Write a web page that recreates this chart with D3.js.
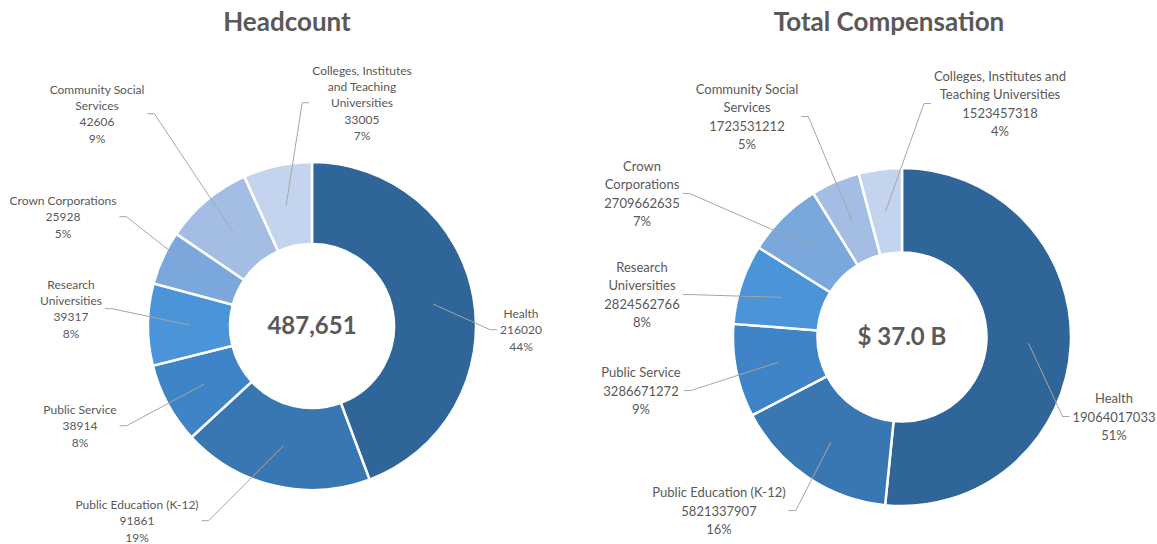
<!DOCTYPE html>
<html>
<head>
<meta charset="utf-8">
<script src="https://cdn.jsdelivr.net/npm/d3@7"></script>
<style>
  body { margin: 0; background: #fff; }
  svg { display: block; font-family: Lato, "Open Sans", sans-serif; }
</style>
</head>
<body>
<div id="chart"></div>
<script>
// sectors, in drawing order (clockwise from 12 o'clock)
const sectors = ['Health', 'Public Education (K-12)', 'Public Service', 'Research Universities',
  'Crown Corporations', 'Community Social Services', 'Colleges, Institutes and Teaching Universities']
const headcount = [216020, 91861, 38914, 39317, 25928, 42606, 33005]
const compensation = [19064017033, 5821337907, 3286671272, 2824562766, 2709662635, 1723531212, 1523457318]
const colors = ['#2f6598', '#3877b2', '#3e84c7', '#4a94d7', '#7aa7dc', '#a4bde5', '#c5d4ee']

// how each label wraps, per chart
const headcountLines = [['Health'], ['Public Education (K-12)'], ['Public Service'], ['Research', 'Universities'],
  ['Crown Corporations'], ['Community Social', 'Services'], ['Colleges, Institutes', 'and Teaching', 'Universities']]
const compensationLines = [['Health'], ['Public Education (K-12)'], ['Public Service'], ['Research', 'Universities'],
  ['Crown', 'Corporations'], ['Community Social', 'Services'], ['Colleges, Institutes and', 'Teaching Universities']]

// label block centres, relative to donut centre (placed by hand in the original)
const headcountLabelPos = [[209, 4], [-175, 195], [-232, 100], [-241, -17], [-249, -109], [-215, -212], [50, -223]]
const compensationLabelPos = [[212, 80], [-183, 174], [-261, 54], [-260, -42], [-260, -143], [-155, -220], [98, -233]]

const width = 1157, height = 544
const svg = d3.select('#chart').append('svg')
  .attr('width', width)
  .attr('height', height)

// whole percentages that add up to 100 (largest remainder)
function percents(values) {
  let total = d3.sum(values)
  let raw = values.map(v => v / total * 100)
  let out = raw.map(Math.floor)
  let left = 100 - d3.sum(out)
  d3.range(raw.length)
    .sort((a, b) => (raw[b] - out[b]) - (raw[a] - out[a]))
    .slice(0, left)
    .forEach(i => out[i] += 1)
  return out
}

function donut(opts) {
  let pct = percents(opts.values)
  let pie = d3.pie().sort(null).value(d => d.value)
  let data = pie(opts.values.map((v, i) => ({ name: sectors[i], value: v, i: i })))

  let arc = d3.arc().innerRadius(opts.r * 0.5).outerRadius(opts.r)
  let mid = d3.arc().innerRadius(opts.r * 0.75).outerRadius(opts.r * 0.75)

  let g = svg.append('g')
    .attr('transform', `translate(${opts.cx}, ${opts.cy})`)

  svg.append('text')
    .attr('x', opts.titleX)
    .attr('y', 31)
    .attr('text-anchor', 'middle')
    .attr('font-size', '26px')
    .attr('font-weight', 'bold')
    .attr('fill', '#595959')
    .text(opts.title)

  g.selectAll('.slice')
    .data(data)
    .enter().append('path')
    .attr('class', 'slice')
    .attr('d', arc)
    .attr('fill', d => colors[d.data.i])
    .attr('stroke', '#fff')
    .attr('stroke-width', 2.5)

  g.append('text')
    .attr('text-anchor', 'middle')
    .attr('dy', '0.35em')
    .attr('font-size', opts.centerSize)
    .attr('font-weight', 'bold')
    .attr('fill', '#595959')
    .text(opts.centerText)

  // labels first, so leader lines can be fitted to their boxes
  let labels = g.selectAll('.label')
    .data(data)
    .enter().append('text')
    .attr('class', 'label')
    .attr('text-anchor', 'middle')
    .attr('font-size', opts.fontSize)
    .attr('fill', '#595959')

  labels.each(function(d) {
    let lines = opts.lines[d.data.i].concat([String(d.data.value), pct[d.data.i] + '%'])
    let [lx, ly] = opts.labelPos[d.data.i]
    let top = ly - (lines.length - 1) * opts.lineHeight / 2
    d3.select(this).selectAll('tspan')
      .data(lines)
      .enter().append('tspan')
      .attr('x', lx)
      .attr('y', (t, k) => top + k * opts.lineHeight)
      .attr('dy', '0.35em')
      .text(t => t)
  })

  labels.each(function(d) {
    let box = this.getBBox()
    let [ax, ay] = mid.centroid(d)
    let ly = box.y + box.height / 2
    let left = box.x + box.width / 2 < ax
    let ex = left ? box.x + box.width + 3 : box.x - 3
    let bx = left ? ex + 7 : ex - 7
    g.insert('polyline', '.label')
      .attr('points', [[ax, ay], [bx, ly], [ex, ly]].map(p => p.join(',')).join(' '))
      .attr('fill', 'none')
      .attr('stroke', '#a6a6a6')
      .attr('stroke-width', 1)
  })
}

donut({
  title: 'Headcount', titleX: 287,
  values: headcount, cx: 312, cy: 326, r: 164,
  lines: headcountLines, labelPos: headcountLabelPos,
  fontSize: '12px', lineHeight: 16.3,
  centerText: d3.format(',')(d3.sum(headcount)), centerSize: '24px'
})

donut({
  title: 'Total Compensation', titleX: 889,
  values: compensation, cx: 902, cy: 337, r: 169,
  lines: compensationLines, labelPos: compensationLabelPos,
  fontSize: '13px', lineHeight: 18.5,
  centerText: '$ ' + (d3.sum(compensation) / 1e9).toFixed(1) + ' B', centerSize: '24px'
})
</script>
</body>
</html>
